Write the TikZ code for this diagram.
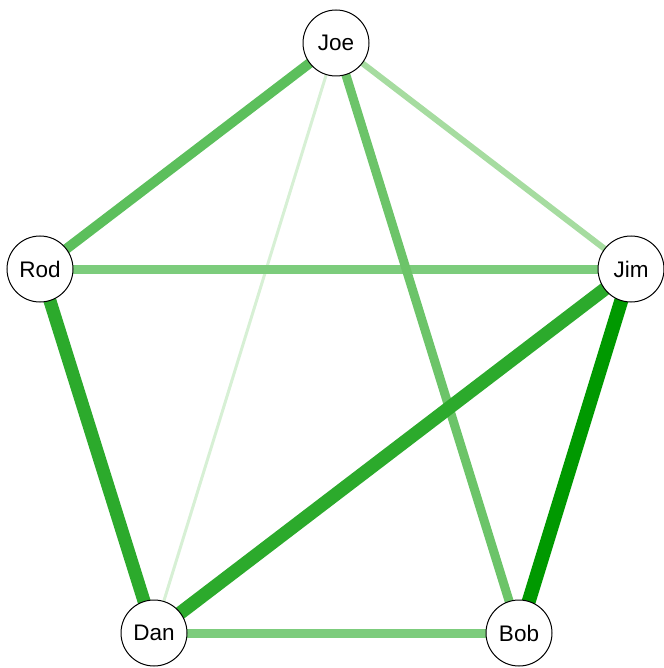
\documentclass[tikz,border=0pt]{standalone}
\usepackage{fontspec}
\setmainfont{Liberation Sans}
\definecolor{eJR}{RGB}{92,191,92}
\definecolor{eJJ}{RGB}{166,220,160}
\definecolor{eJD}{RGB}{215,240,213}
\definecolor{eJB}{RGB}{108,196,105}
\definecolor{eRJ}{RGB}{124,204,124}
\definecolor{eRD}{RGB}{44,170,44}
\definecolor{eMD}{RGB}{44,170,44}
\definecolor{eMB}{RGB}{0,153,0}
\definecolor{eDB}{RGB}{124,204,124}
\begin{document}
\begin{tikzpicture}[x=1pt,y=-1pt,
  vert/.style={circle,draw=black,line width=1pt,fill=white,minimum size=66pt,inner sep=0pt,font=\fontsize{22.5}{26}\selectfont},
  edge/.style={line cap=butt}]
\useasboundingbox (0,0) rectangle (663,668);
\coordinate (cJoe) at (336,43);
\coordinate (cRod) at (40,269);
\coordinate (cJim) at (631,269);
\coordinate (cDan) at (154,633);
\coordinate (cBob) at (519,633);
\draw[edge,eJD,line width=3pt] (cJoe) -- (cDan);
\draw[edge,eJJ,line width=6pt] (cJoe) -- (cJim);
\draw[edge,eJR,line width=10pt] (cJoe) -- (cRod);
\draw[edge,eRJ,line width=9pt] (cRod) -- (cJim);
\draw[edge,eJB,line width=9pt] (cJoe) -- (cBob);
\draw[edge,eDB,line width=9pt] (cDan) -- (cBob);
\draw[edge,eRD,line width=13pt] (cRod) -- (cDan);
\draw[edge,eMD,line width=13.5pt] (cJim) -- (cDan);
\draw[edge,eMB,line width=14pt] (cJim) -- (cBob);
\node[vert] (Joe) at (cJoe) {Joe};
\node[vert] (Rod) at (cRod) {Rod};
\node[vert] (Jim) at (cJim) {Jim};
\node[vert] (Dan) at (cDan) {Dan};
\node[vert] (Bob) at (cBob) {Bob};
\end{tikzpicture}
\end{document}
